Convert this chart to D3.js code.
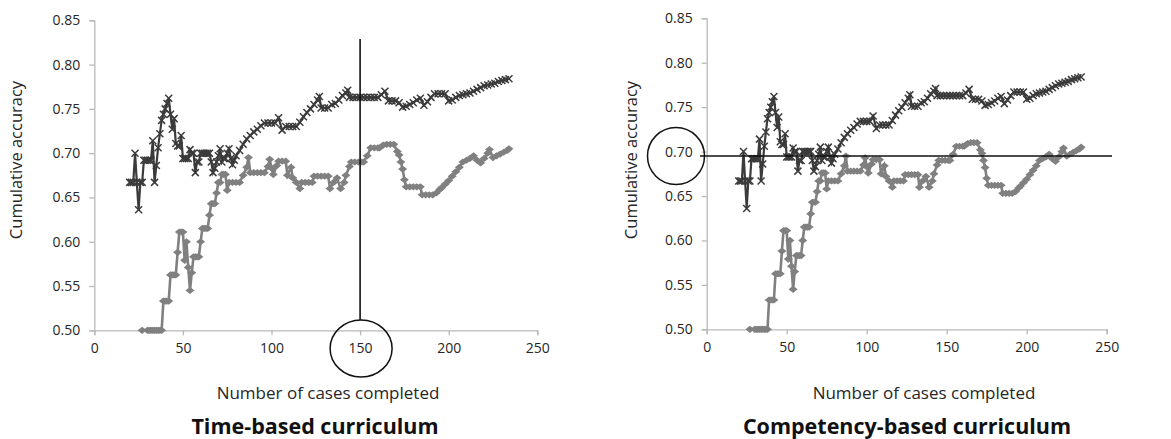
<!DOCTYPE html>
<html>
<head>
<meta charset="utf-8">
<script src="https://cdn.jsdelivr.net/npm/d3@7"></script>
<style>
  body { margin: 0; background: #ffffff; }
  svg { display: block; }
</style>
</head>
<body>
<div id="chart"></div>
<script>
// cases completed / cumulative accuracy
var darkCases = [20,21,22,23,24,25,26,27,28,29,30,31,32,33,34,35,36,37,38,39,40,41,42,43,44,45,46,47,48,49,
    50,51,52,53,54,55,56,57,58,59,60,61,62,63,64,65,66,67,68,69,70,71,72,73,74,75,76,77,78,79,
    80,82,84,86,88,90,92,94,96,98,100,102,104,106,108,110,112,114,116,118,120,122,124,126,127,128,
    130,132,134,136,138,140,142,143,144,146,148,150,152,154,156,158,160,162,164,166,168,170,172,174,
    176,178,180,182,184,186,188,190,192,194,196,198,200,202,204,206,208,210,212,214,216,218,220,222,
    224,226,228,230,232,234];
var darkAcc = [.667,.667,.667,.700,.667,.636,.667,.667,.692,.692,.692,.692,.692,.714,.667,.686,.706,.722,.737,.744,
    .750,.756,.762,.744,.727,.739,.711,.708,.708,.720,.694,.694,.694,.694,.704,.700,.700,.678,.690,.690,
    .700,.700,.700,.700,.700,.700,.690,.678,.683,.690,.697,.705,.690,.694,.694,.700,.705,.694,.687,.692,
    .697,.703,.710,.716,.720,.724,.727,.731,.734,.734,.734,.734,.740,.726,.730,.730,.730,.730,.735,.741,
    .746,.750,.755,.760,.764,.751,.751,.751,.755,.756,.760,.765,.768,.771,.763,.763,.763,.763,.763,.763,
    .763,.763,.763,.766,.770,.759,.759,.759,.757,.752,.753,.755,.757,.760,.762,.754,.758,.763,.767,.767,
    .767,.767,.759,.760,.763,.765,.766,.767,.768,.770,.772,.774,.776,.777,.778,.779,.781,.782,.783,.784];

var lightCases = [27,30,31,32,33,34,35,36,37,38,39,40,41,42,43,44,45,46,47,48,49,50,51,52,53,54,55,56,57,58,
    59,60,61,62,63,64,65,66,67,68,69,70,71,72,73,74,75,76,78,80,82,84,86,87,88,90,92,94,96,98,
    99,100,101,103,104,106,108,109,111,112,114,116,117,119,121,123,124,126,128,130,132,133,135,137,139,141,142,144,145,147,
    149,151,152,154,156,158,160,161,163,165,167,169,171,172,173,174,175,176,178,180,182,184,185,187,189,191,193,195,196,198,
    200,202,204,206,208,210,212,214,216,218,220,222,223,225,227,229,231,233,234];
var lightAcc = [.500,.500,.500,.500,.500,.500,.500,.500,.500,.500,.533,.533,.533,.533,.5625,.5625,.5625,.5625,.588,.611,
    .611,.611,.579,.600,.571,.545,.565,.583,.583,.583,.583,.600,.615,.615,.615,.615,.630,.643,.643,.643,
    .655,.667,.667,.676,.676,.676,.658,.667,.667,.667,.667,.675,.684,.695,.678,.678,.678,.678,.678,.685,
    .693,.683,.676,.686,.691,.691,.691,.675,.684,.672,.667,.660,.667,.667,.667,.667,.674,.674,.674,.674,
    .674,.660,.667,.672,.660,.667,.675,.685,.690,.690,.690,.690,.690,.697,.706,.706,.706,.706,.709,.710,
    .710,.710,.702,.698,.690,.682,.670,.662,.662,.662,.662,.662,.653,.653,.653,.653,.655,.659,.661,.665,
    .669,.674,.679,.684,.690,.692,.694,.697,.692,.689,.694,.700,.704,.695,.697,.699,.701,.703,.705];

var xTicks = [0, 50, 100, 150, 200, 250];
var yTicks = [0.50, 0.55, 0.60, 0.65, 0.70, 0.75, 0.80, 0.85];
var panelTitles = ["Time-based curriculum", "Competency-based curriculum"];
var xLabel = "Number of cases completed";
var yLabel = "Cumulative accuracy";
var markCase = 150;      // vertical cut in the left panel
var markAcc = 0.695;     // horizontal cut in the right panel

var W = 1171, H = 439;
var font = "'Open Sans', 'Noto Sans', sans-serif";
var darkColor = "#3b3b3b", lightColor = "#808080", axisColor = "#b9b9b9", textColor = "#262626";

var svg = d3.select("#chart").append("svg").attr("width", W).attr("height", H).style("background", "#ffffff");

var darkData = darkCases.map(function (c, i) { return {x: c, y: darkAcc[i]}; });
var lightData = lightCases.map(function (c, i) { return {x: c, y: lightAcc[i]}; });

function drawPanel(p) {
    var x = d3.scaleLinear().domain([0, 250]).range([p.left, p.right]);
    var y = d3.scaleLinear().domain([0.50, 0.85]).range([p.bottom, p.top]);
    var g = svg.append("g");

    var xAxis = g.append("g").attr("transform", "translate(0," + p.bottom + ")")
        .call(d3.axisBottom(x).tickValues(xTicks).tickSize(5).tickPadding(8).tickFormat(d3.format("d")));
    var yAxis = g.append("g").attr("transform", "translate(" + p.left + ",0)")
        .call(d3.axisLeft(y).tickValues(yTicks).tickSize(5).tickPadding(9).tickFormat(d3.format(".2f")));
    [xAxis, yAxis].forEach(function (a) {
        a.select(".domain").attr("stroke", axisColor).attr("stroke-width", 1.3);
        a.selectAll(".tick line").attr("stroke", axisColor).attr("stroke-width", 1.3);
        a.selectAll(".tick text").attr("fill", textColor).attr("font-family", font).attr("font-size", "14px");
    });

    var line = d3.line().x(function (d) { return x(d.x); }).y(function (d) { return y(d.y); });

    // light series with diamonds
    g.append("path").datum(lightData).attr("d", line)
        .attr("fill", "none").attr("stroke", lightColor).attr("stroke-width", 2.6);
    g.selectAll(".dia").data(lightData).enter().append("path")
        .attr("class", "dia")
        .attr("transform", function (d) { return "translate(" + x(d.x) + "," + y(d.y) + ")"; })
        .attr("d", "M-4.5,0L0,-3.6L4.5,0L0,3.6Z")
        .attr("fill", lightColor);

    // dark series with crosses
    g.append("path").datum(darkData).attr("d", line)
        .attr("fill", "none").attr("stroke", darkColor).attr("stroke-width", 2.2);
    g.selectAll(".crs").data(darkData).enter().append("path")
        .attr("class", "crs")
        .attr("transform", function (d) { return "translate(" + x(d.x) + "," + y(d.y) + ")"; })
        .attr("d", "M-3.5,-3.5L3.5,3.5M-3.5,3.5L3.5,-3.5")
        .attr("stroke", darkColor).attr("stroke-width", 1.5);

    // labels
    g.append("text").attr("x", p.xLabelX).attr("y", 399)
        .attr("text-anchor", "middle").attr("font-family", font).attr("font-size", "17px")
        .attr("fill", textColor).text(xLabel);
    g.append("text").attr("transform", "translate(" + p.yLabelX + ",160) rotate(-90)")
        .attr("text-anchor", "middle").attr("font-family", font).attr("font-size", "16.5px")
        .attr("fill", textColor).text(yLabel);
    g.append("text").attr("x", p.titleX).attr("y", 434)
        .attr("text-anchor", "middle").attr("font-family", font).attr("font-size", "21.5px")
        .attr("font-weight", "bold").attr("fill", "#111111").text(p.title);

    return {x: x, y: y, g: g};
}

var left = drawPanel({left: 94.3, right: 537.3, top: 20.3, bottom: 330.3,
    xLabelX: 328, yLabelX: 22, titleX: 315, title: panelTitles[0]});
var right = drawPanel({left: 706.7, right: 1106.7, top: 18.3, bottom: 329.3,
    xLabelX: 924, yLabelX: 637, titleX: 907, title: panelTitles[1]});

// left annotation: vertical line at 150 cases with ellipse around the tick label
left.g.append("line")
    .attr("x1", left.x(markCase)).attr("x2", left.x(markCase))
    .attr("y1", 39).attr("y2", 320)
    .attr("stroke", "#111111").attr("stroke-width", 1.6);
left.g.append("ellipse")
    .attr("cx", left.x(markCase) + 1).attr("cy", 348.5).attr("rx", 31).attr("ry", 28.5)
    .attr("fill", "none").attr("stroke", "#111111").attr("stroke-width", 1.5);

// right annotation: horizontal line at 0.695 with circle around the 0.70 label
right.g.append("line")
    .attr("x1", 700).attr("x2", 1112)
    .attr("y1", right.y(markAcc)).attr("y2", right.y(markAcc))
    .attr("stroke", "#111111").attr("stroke-width", 1.6);
right.g.append("ellipse")
    .attr("cx", 676).attr("cy", right.y(markAcc)).attr("rx", 28.5).attr("ry", 28.5)
    .attr("fill", "none").attr("stroke", "#111111").attr("stroke-width", 1.5);
</script>
</body>
</html>
